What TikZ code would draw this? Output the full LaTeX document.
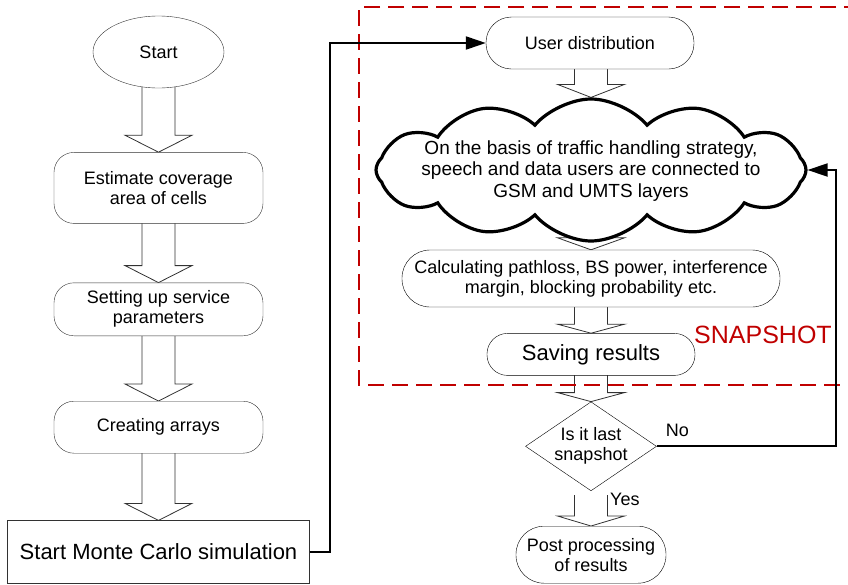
\documentclass[tikz,border=0pt]{standalone}
\usepackage{fontspec}
\setmainfont{Liberation Sans}
\usetikzlibrary{calc, positioning, arrows.meta, shapes.geometric, shapes.symbols}
\pgfdeclarelayer{bg}
\pgfsetlayers{bg,main}
\definecolor{outline}{RGB}{50,50,50}
\definecolor{snapred}{RGB}{192,0,0}

% hollow block arrow: from, to, start offset, head length
\newcommand{\blockarrow}[4]{%
	\begin{pgfonlayer}{bg}
		\draw[hollow] let \p1=(#1.south), \p2=(#2.north) in
			(\x2-16.5pt,\y1+#3pt) -- (\x2-16.5pt,\y2+#4pt) -- (\x2-33.5pt,\y2+#4pt) -- (\p2)
			-- (\x2+33.5pt,\y2+#4pt) -- (\x2+16.5pt,\y2+#4pt) -- (\x2+16.5pt,\y1+#3pt);
	\end{pgfonlayer}}

\begin{document}
\begin{tikzpicture}[x=1pt, y=-1pt,
		txt/.style={font=\fontsize{18pt}{20pt}\selectfont},
		leftbox/.style={txt, draw=outline, rectangle, rounded corners=20pt, minimum width=209pt, fill=white, align=center, inner sep=0pt},
		stadium/.style={txt, draw, rectangle, rounded corners=#1, fill=white, align=center, inner sep=0pt},
		hollow/.style={draw=outline, fill=white, line width=0.8pt},
		flowline/.style={line width=2pt, -{Triangle[length=20pt,width=13pt]}},
		lbl/.style={txt, inner sep=0pt}]
	\useasboundingbox (0,0) rectangle (848,584);

		% nodes - left column %
		\node[txt, ellipse, draw=outline, fill=white, minimum width=131pt, minimum height=72pt, inner sep=0pt] (start) at (158.5,52) {Start};
		\node[leftbox, minimum height=71pt, below=64pt of start] (estimate) {Estimate coverage\\area of cells};
		\node[leftbox, minimum height=53pt, below=59pt of estimate] (setting) {Setting up service\\parameters};
		\node[leftbox, minimum height=52pt, below=65pt of setting] (arrays) {Creating arrays};
		\node[draw=outline, fill=white, minimum width=302pt, minimum height=63pt, inner sep=0pt, font=\fontsize{22pt}{24pt}\selectfont, below=67pt of arrays] (montecarlo) {Start Monte Carlo simulation};

		% nodes - snapshot loop %
		\node[stadium=25.5pt, minimum width=208pt, minimum height=52pt] (userdist) at (590,43) {User distribution};
		\node[cloud, draw, line width=3.2pt, cloud puffs=12, cloud puff arc=100, aspect=3.4, fill=white, minimum width=430pt, minimum height=142pt, inner sep=0pt] (cloud) at (591,170) {};
		\node[font=\fontsize{19pt}{21.5pt}\selectfont, align=center, inner sep=0pt] (cloudtext) at ([yshift=-1pt]cloud.center) {On the basis of traffic handling strategy,\\speech and data users are connected to\\GSM and UMTS layers};
		\node[stadium=28pt, minimum width=378pt, minimum height=57pt] (calc) at (591,278.5) {Calculating pathloss, BS power, interference\\margin, blocking probability etc.};
		\node[stadium=20.5pt, minimum width=208pt, minimum height=42pt, font=\fontsize{22pt}{24pt}\selectfont, below=26pt of calc] (saving) {Saving results};
		\node[txt, diamond, draw, aspect=1.47, fill=white, minimum width=131pt, minimum height=89pt, inner sep=0pt, align=center, below=26pt of saving] (decision) {Is it last\\snapshot};
		\node[stadium=28pt, minimum width=150pt, minimum height=57pt, below=35pt of decision] (post) {Post processing\\of results};

		% labels %
		\node[lbl, above right=9pt and 9pt of decision.east] (nolabel) {No};
		\node[lbl, below right=2pt and 19pt of decision.south] (yeslabel) {Yes};
		\node[inner sep=0pt, text=snapred, font=\fontsize{25pt}{28pt}\selectfont, anchor=base west] (snapshot) at (694,343) {SNAPSHOT};

		% snapshot frame %
		\draw[snapred, line width=2pt, dash pattern=on 16pt off 8pt] (860,7) -- (359,7) -- (359,385) -- (860,385);

		% edges %
		\blockarrow{start}{estimate}{6}{17}
		\blockarrow{estimate}{setting}{6}{17}
		\blockarrow{setting}{arrays}{6}{17}
		\blockarrow{arrays}{montecarlo}{6}{17}
		\blockarrow{userdist}{cloud}{6}{13}
		\blockarrow{cloud}{calc}{20}{12}
		\blockarrow{calc}{saving}{6}{9}
		\blockarrow{saving}{decision}{6}{9}
		\blockarrow{decision}{post}{-4}{10}
		\draw[flowline] (montecarlo.east) -- ++(20,0) |- (userdist.west);
		\draw[flowline] (decision.east) -- ++(179,0) |- (cloud.east);

\end{tikzpicture}
\end{document}
